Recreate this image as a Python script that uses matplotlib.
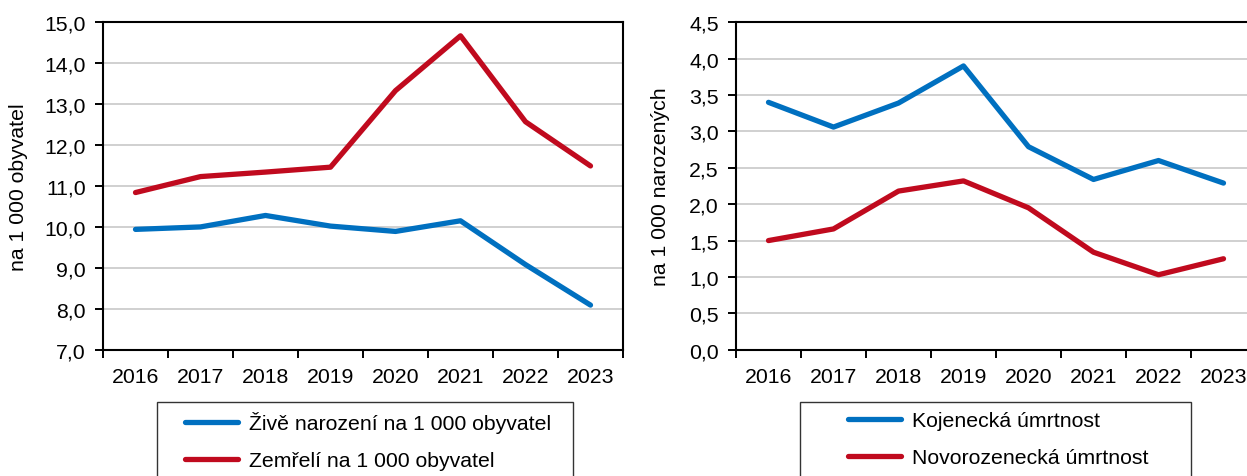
import matplotlib.pyplot as plt
from matplotlib.patches import Rectangle
from matplotlib.ticker import FuncFormatter, FixedLocator

plt.rcParams['font.family'] = ['Liberation Sans', 'DejaVu Sans']

# Data
years = ['2016', '2017', '2018', '2019', '2020', '2021', '2022', '2023']
live_births = [9.94, 10.00, 10.28, 10.02, 9.89, 10.15, 9.08, 8.09]
deaths = [10.84, 11.23, 11.34, 11.46, 13.33, 14.67, 12.57, 11.49]
infant_mort = [3.40, 3.06, 3.39, 3.90, 2.79, 2.34, 2.60, 2.29]
neonatal_mort = [1.50, 1.66, 2.18, 2.32, 1.95, 1.34, 1.03, 1.25]

BLUE = '#0070C0'
RED = '#C00A1E'
W, H = 1247, 477
FS = 15.3
LW = 3.8

fig = plt.figure(figsize=(W / 100, H / 100), dpi=100)


def px_axes(x0, y0, x1, y1):
    return fig.add_axes([x0 / W, 1 - y1 / H, (x1 - x0) / W, (y1 - y0) / H])


def style(ax, ymin, ymax, step, ylabel):
    n = len(years)
    x = list(range(n))
    ax.set_xlim(-0.5, n - 0.5)
    ax.set_ylim(ymin, ymax)
    ax.xaxis.set_major_locator(FixedLocator([i - 0.5 for i in range(n + 1)]))
    ax.xaxis.set_minor_locator(FixedLocator(x))
    ax.set_xticklabels([], minor=False)
    ax.set_xticklabels(years, minor=True)
    ax.tick_params(axis='x', which='minor', length=0, pad=12.5, labelsize=FS)
    ax.tick_params(axis='x', which='major', length=6, width=1.4, direction='out')
    ticks = []
    v = ymin
    while v <= ymax + 1e-9:
        ticks.append(v)
        v += step
    ax.set_yticks(ticks)
    ax.yaxis.set_major_formatter(FuncFormatter(lambda val, pos: f'{val:.1f}'.replace('.', ',')))
    ax.tick_params(axis='y', length=6, width=1.4, direction='out', pad=6.5, labelsize=FS)
    ax.grid(axis='y', color='#C8C8C8', linewidth=1.2)
    ax.set_axisbelow(True)
    for s in ax.spines.values():
        s.set_linewidth(1.5)
        s.set_color('black')
    ax.set_ylabel(ylabel, fontsize=FS)
    return x


# Left chart
ax1 = px_axes(103, 23.3, 623, 350.7)
x = style(ax1, 7.0, 15.0, 1.0, 'na 1 000 obyvatel')
ax1.yaxis.set_label_coords(-0.144, 0.5)
l1, = ax1.plot(x, live_births, color=BLUE, linewidth=LW, solid_capstyle='round', label='Živě narození na 1 000 obyvatel')
l2, = ax1.plot(x, deaths, color=RED, linewidth=LW, solid_capstyle='round', label='Zemřelí na 1 000 obyvatel')

# Right chart
ax2 = px_axes(736, 23.3, 1256, 350.7)
x = style(ax2, 0.0, 4.5, 0.5, 'na 1 000 narozených')
ax2.yaxis.set_label_coords(-0.127, 0.5)
l3, = ax2.plot(x, infant_mort, color=BLUE, linewidth=LW, solid_capstyle='round', label='Kojenecká úmrtnost')
l4, = ax2.plot(x, neonatal_mort, color=RED, linewidth=LW, solid_capstyle='round', label='Novorozenecká úmrtnost')

# Legends with boxes cut by the figure bottom
for handles, box_x0, box_x1, hx in [([l1, l2], 157, 573, 185), ([l3, l4], 800, 1191, 848)]:
    fig.patches.append(Rectangle((box_x0 / W, -0.05), (box_x1 - box_x0) / W, (H + 24 - 403) / H,
                                 transform=fig.transFigure, fill=False, edgecolor='#333333',
                                 linewidth=1.0))
    fig.legend(handles=handles, loc='upper left', bbox_to_anchor=(hx / W, 1 - 412 / H),
               frameon=False, fontsize=FS, borderpad=0, borderaxespad=0,
               handlelength=2.5, handletextpad=0.5, labelspacing=0.85)

fig.savefig('out.png', dpi=100)
